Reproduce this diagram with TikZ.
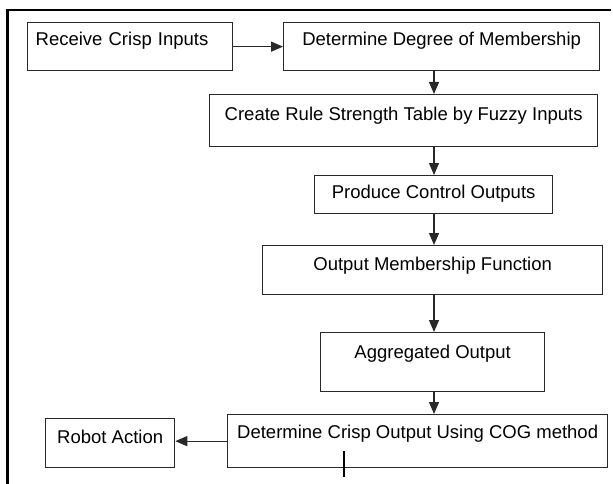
\documentclass[tikz,border=0pt]{standalone}
\usepackage{fontspec}
\setmainfont{Liberation Sans}
\usetikzlibrary{arrows.meta}
\definecolor{boxline}{RGB}{40,40,40}
\begin{document}
\begin{tikzpicture}[x=1pt,y=-1pt,
  stepbox/.style={draw=boxline, line width=1.3pt, inner sep=0pt, anchor=north west,
    font=\fontsize{18.5}{21}\selectfont},
  flow/.style={draw=boxline, line width=1.3pt, -{Triangle[length=12pt,width=10pt]}},
]
\useasboundingbox (0,0) rectangle (613,484);

% outer frame (open at the bottom)
\draw[line width=3pt] (7,484) -- (7,9.5);
\draw[line width=2pt] (5.5,10) -- (611,10);

% process boxes: text height/depth place the baseline inside each box
\node[stepbox, inner xsep=8pt, text width=189pt, align=left,
      text height=23pt, text depth=25pt] (recv) at (27,22) {Receive Crisp Inputs};
\node[stepbox, minimum width=316pt, text height=23pt, text depth=25pt]
      (degree) at (283,22) {Determine Degree of Membership};
\node[stepbox, minimum width=388pt, text height=26pt, text depth=26pt]
      (rules) at (209,94) {Create Rule Strength Table by Fuzzy Inputs};
\node[stepbox, minimum width=238pt, text height=23pt, text depth=15pt]
      (ctrl) at (314,175) {Produce Control Outputs};
\node[stepbox, minimum width=340pt, text height=25pt, text depth=24pt]
      (omf) at (262,245) {Output Membership Function};
\node[stepbox, minimum width=224pt, text height=26pt, text depth=33pt]
      (agg) at (320,332) {Aggregated Output};
\node[stepbox, minimum width=380pt, text height=24pt, text depth=29pt]
      (crisp) at (227,414) {Determine Crisp Output Using COG method};
\node[stepbox, minimum width=129pt, text height=25pt, text depth=24pt]
      (robot) at (45,418) {Robot Action};

% main flow line
\coordinate (spine) at (434,0);
\draw[flow] (recv.east) -- (degree.west);
\draw[flow] (degree.south -| spine) -- (rules.north -| spine);
\draw[flow] (rules.south -| spine) -- (ctrl.north -| spine);
\draw[flow] (ctrl.south -| spine) -- (omf.north -| spine);
\draw[flow] (omf.south -| spine) -- (agg.north -| spine);
\draw[flow] (agg.south -| spine) -- (crisp.north -| spine);
\draw[flow] (crisp.west) -- (crisp.west -| robot.east);

% short stub crossing the bottom edge of the last box
\coordinate (stubtop) at (344,451);
\coordinate (stubbot) at (344,477);
\draw[line width=2.5pt] (stubtop) -- (stubbot);
\end{tikzpicture}
\end{document}
